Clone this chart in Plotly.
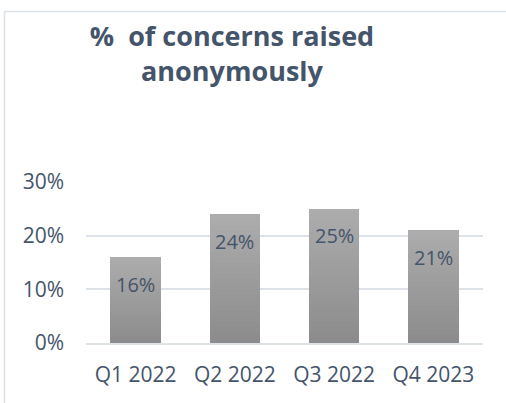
import plotly.graph_objects as go

categories = ["Q1 2022", "Q2 2022", "Q3 2022", "Q4 2023"]
values = [0.16, 0.24, 0.25, 0.21]
labels = ["16%", "24%", "25%", "21%"]
y_ticks = [0, 0.10, 0.20, 0.30]
y_tick_labels = ["0%", "10%", "20%", "30%"]

TEXT = "#44546A"
GRID = "#DDE2E8"
FONT = "Open Sans"

# vertical gradient (bottom dark -> top light) made of stacked slices of each bar
N = 24
bottom_rgb = (0x8C, 0x8C, 0x8C)
top_rgb = (0xAC, 0xAC, 0xAC)

fig = go.Figure()
for i in range(N):
    t = i / (N - 1)
    c = tuple(round(b + (tp - b) * t) for b, tp in zip(bottom_rgb, top_rgb))
    fig.add_trace(go.Bar(
        x=categories,
        y=[v / N for v in values],
        marker=dict(color="rgb(%d,%d,%d)" % c, line=dict(width=0)),
        hoverinfo="skip",
        showlegend=False,
    ))

for cat, v, lab in zip(categories, values, labels):
    fig.add_annotation(x=cat, y=v, text=lab, showarrow=False,
                       yanchor="middle", yshift=-27,
                       font=dict(family=FONT, size=20, color=TEXT))

# chart frame (light border)
frame = dict(color="#DCE1E7", width=1.5)
fig.add_shape(type="line", xref="paper", yref="paper",
              x0=-0.2053, x1=-0.2053, y0=2.059, y1=-0.5, line=frame)
fig.add_shape(type="line", xref="paper", yref="paper",
              x0=-0.2053, x1=1.2, y0=2.059, y1=2.059, line=frame)

fig.update_layout(
    width=506, height=403,
    barmode="stack",
    bargap=0.49,
    paper_bgcolor="white",
    plot_bgcolor="white",
    margin=dict(l=86, r=23, t=181.7, b=59.7, autoexpand=False),
    title=dict(
        text="%\u00a0 of concerns raised<br>anonymously",
        x=232 / 506, xanchor="center", xref="container",
        y=1 - 46 / 403, yanchor="top", yref="container",
        font=dict(family=FONT, size=27, color=TEXT, weight="bold"),
    ),
    font=dict(family=FONT, color=TEXT),
)
fig.update_yaxes(
    range=[0, 0.30], tickvals=y_ticks, ticktext=y_tick_labels,
    showgrid=True, gridcolor=GRID, gridwidth=2,
    zeroline=False, showline=False, ticks="",
    tickfont=dict(family=FONT, size=21, color=TEXT),
    ticklabelstandoff=21,
)
fig.update_xaxes(
    showline=True, linecolor=GRID, linewidth=2,
    ticks="", showgrid=False,
    tickfont=dict(family=FONT, size=21, color=TEXT),
    ticklabelstandoff=12,
)

fig.write_html("out.html")
